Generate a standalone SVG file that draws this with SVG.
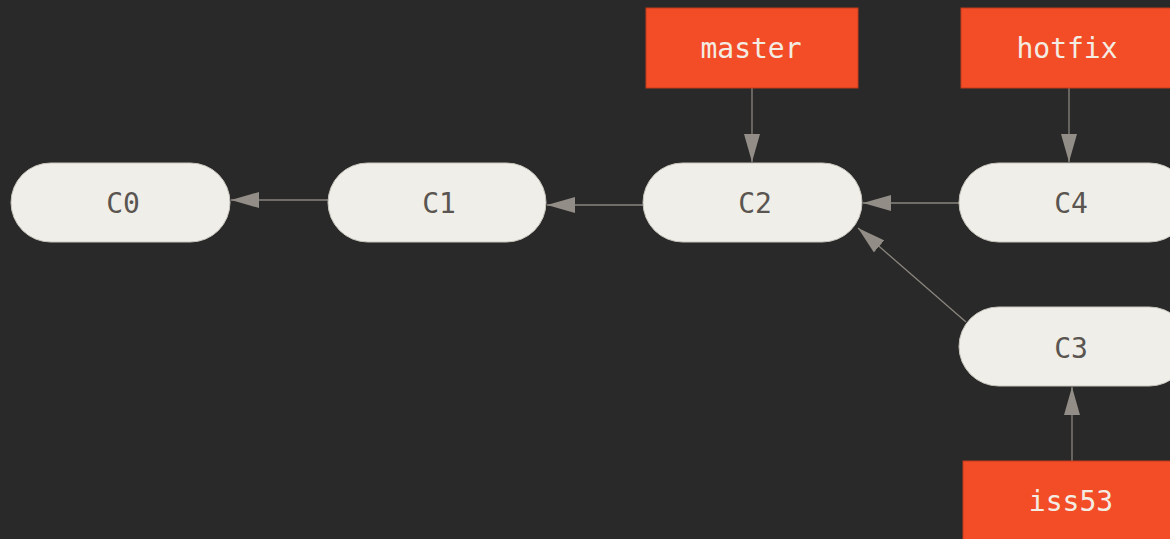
<svg xmlns="http://www.w3.org/2000/svg" width="1170" height="539" viewBox="0 0 1170 539">
<defs>
<style>
.commit{fill:#efeee8;stroke:#c9c6bd;stroke-width:1}
.ctext{font-family:"DejaVu Sans Mono","Liberation Mono",monospace;font-size:28px;fill:#5a5550;text-anchor:middle}
.branch{fill:#f34d27;stroke:#c23a1c;stroke-width:1}
.btext{font-family:"DejaVu Sans Mono","Liberation Mono",monospace;font-size:28px;fill:#f3ece3;text-anchor:middle}
.edge{stroke:#8a857e;stroke-width:1.3;fill:none;marker-end:url(#ah)}
</style>
<marker id="ah" viewBox="0 0 28 16" refX="28" refY="8" markerWidth="28" markerHeight="16" markerUnits="userSpaceOnUse" orient="auto">
<path d="M0,0 L28,8 L0,16 Z" fill="#928d86"/>
</marker>
</defs>
<rect width="1170" height="539" fill="#292929"/>
<g id="connectors">
<line class="edge" x1="328" y1="200" x2="231" y2="200"/>
<line class="edge" x1="643" y1="205" x2="547" y2="205"/>
<line class="edge" x1="959" y1="203" x2="863" y2="203"/>
<line class="edge" x1="966" y1="322" x2="858" y2="228"/>
<line class="edge" x1="752" y1="88" x2="752" y2="162"/>
<line class="edge" x1="1069" y1="88" x2="1069" y2="162"/>
<line class="edge" x1="1072" y1="461" x2="1072" y2="387"/>
</g>
<g id="C0"><rect class="commit" x="11" y="163" width="219" height="79" rx="39.5"/><text class="ctext" x="123" y="213">C0</text></g>
<g id="C1"><rect class="commit" x="328" y="163" width="218" height="79" rx="39.5"/><text class="ctext" x="439" y="213">C1</text></g>
<g id="C2"><rect class="commit" x="643" y="163" width="219" height="79" rx="39.5"/><text class="ctext" x="755" y="213">C2</text></g>
<g id="C4"><rect class="commit" x="959" y="163" width="230" height="79" rx="39.5"/><text class="ctext" x="1071" y="213">C4</text></g>
<g id="C3"><rect class="commit" x="959" y="307" width="230" height="79" rx="39.5"/><text class="ctext" x="1071" y="358">C3</text></g>
<g id="master"><rect class="branch" x="646" y="8" width="212" height="80"/><text class="btext" x="751" y="58">master</text></g>
<g id="hotfix"><rect class="branch" x="961" y="8" width="230" height="80"/><text class="btext" x="1067" y="58">hotfix</text></g>
<g id="iss53"><rect class="branch" x="963" y="461" width="230" height="90"/><text class="btext" x="1071" y="511">iss53</text></g>
</svg>
